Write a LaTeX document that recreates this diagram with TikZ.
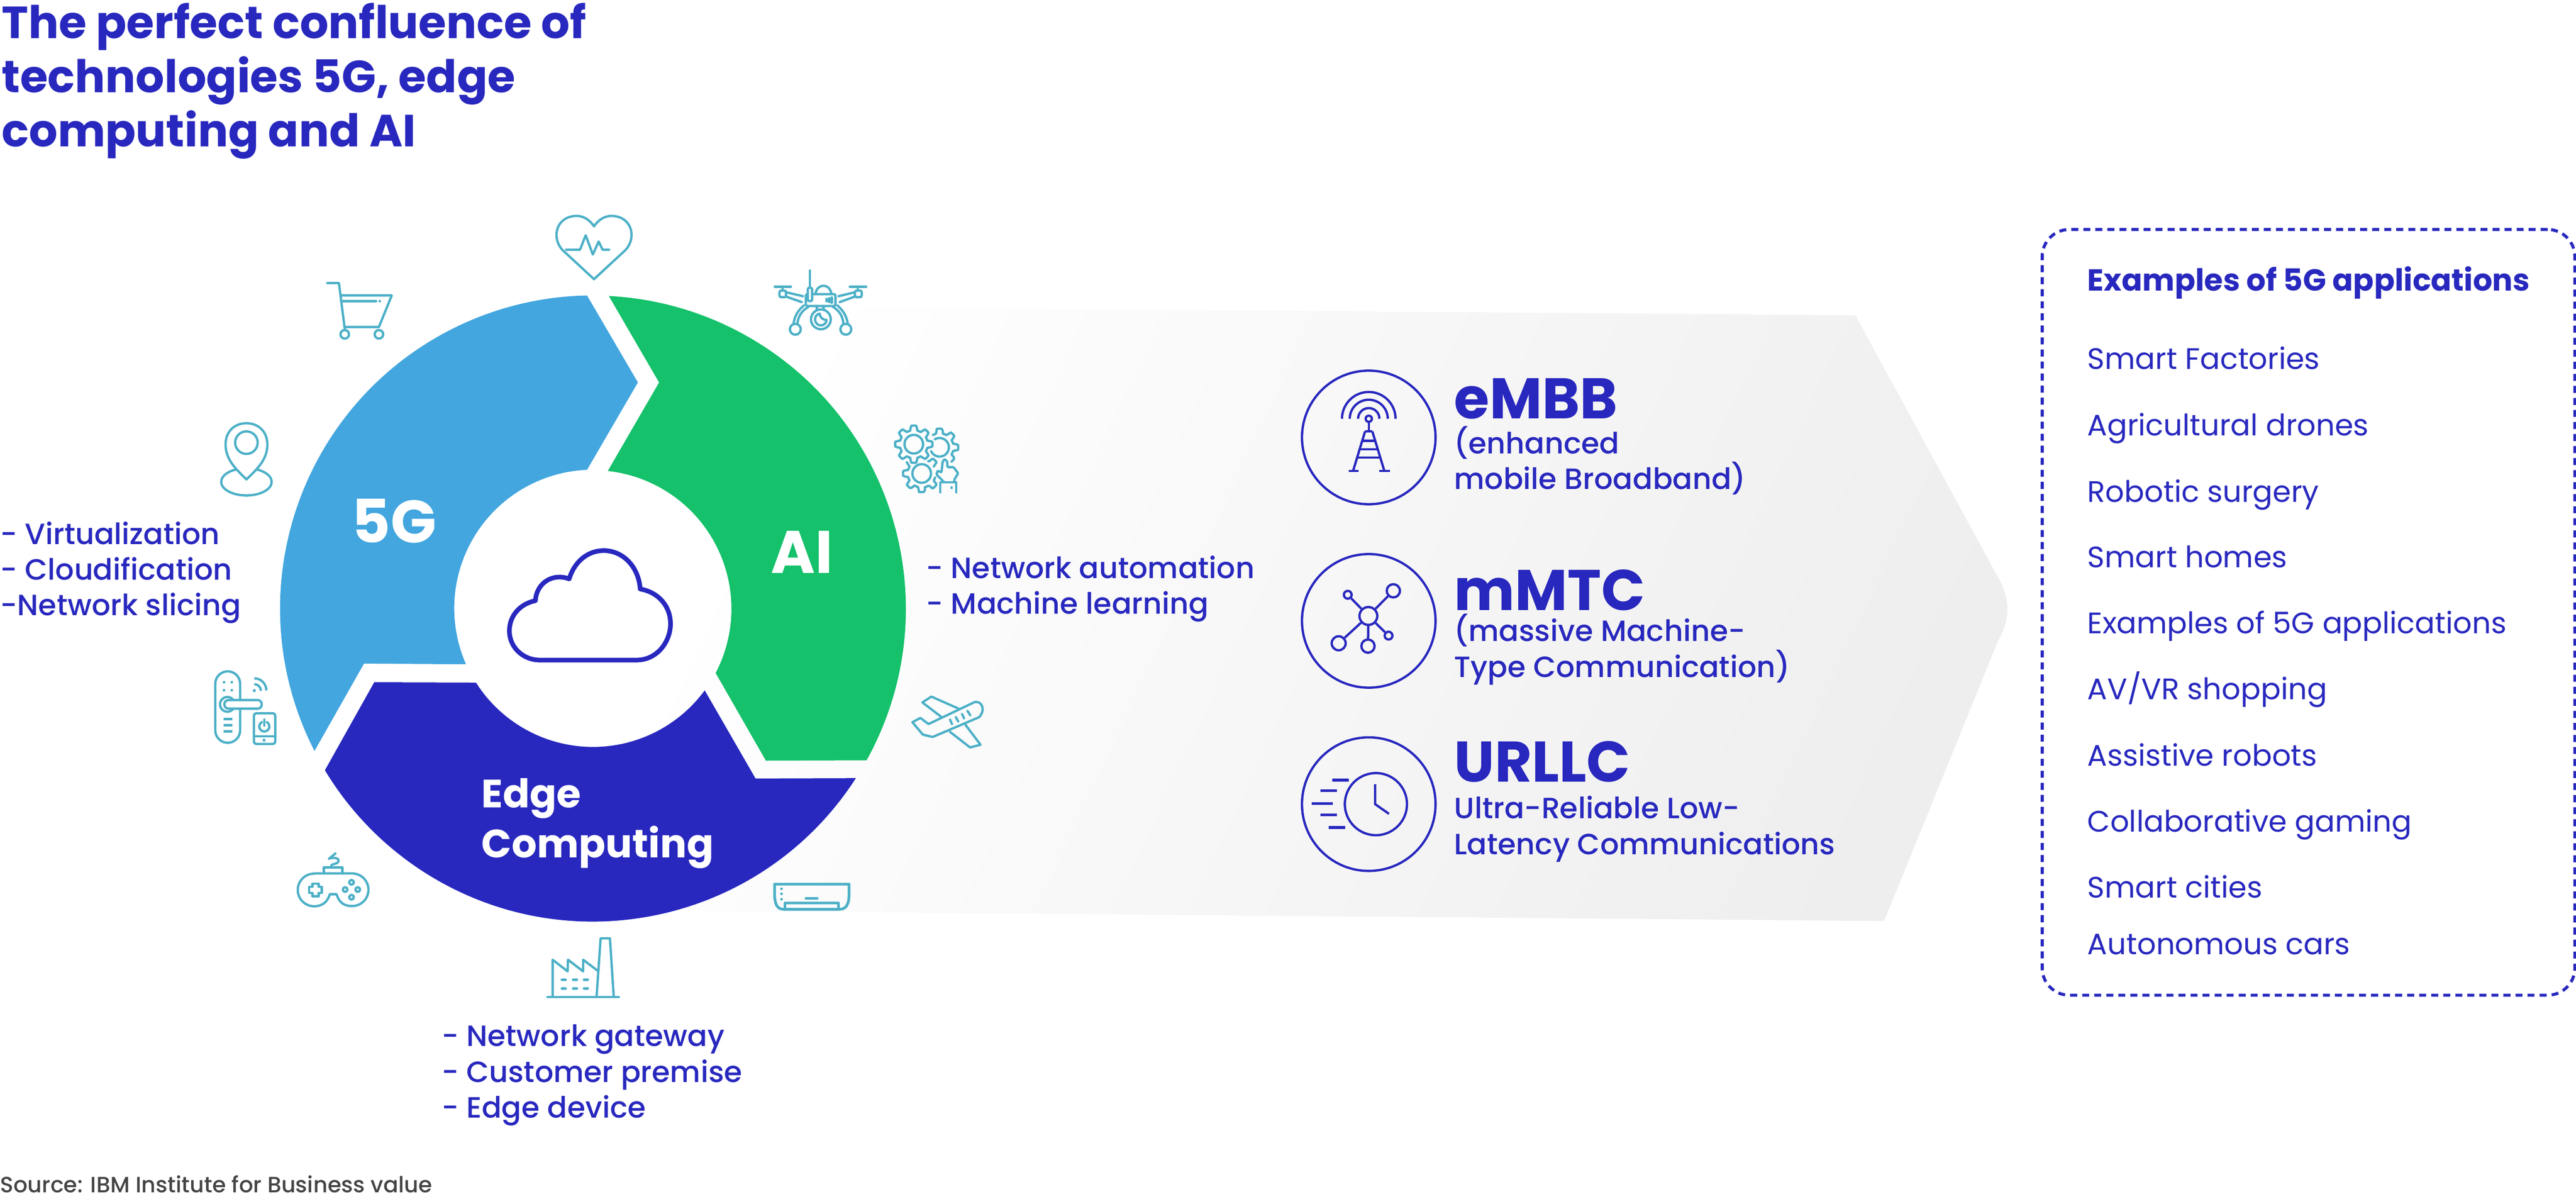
\documentclass[tikz,border=0pt]{standalone}
\usepackage{fontspec}
\usepackage{tikz}
\usetikzlibrary{calc}
\setmainfont{Poppins}
\newfontfamily\medfont{Poppins Medium}
\definecolor{navy}{HTML}{2828BF}
\definecolor{skyseg}{HTML}{43A6DF}
\definecolor{greenseg}{HTML}{15C16B}
\definecolor{iconteal}{HTML}{4CB0C7}
\definecolor{srcgrey}{HTML}{444444}
\tikzset{
  lbl/.style={anchor=base west, inner sep=0pt, text=navy},
  bodytxt/.style={lbl, font=\medfont\fontsize{21.5}{26}\selectfont},
  listtxt/.style={lbl, font=\fontsize{21.7}{26}\selectfont},
  headtxt/.style={lbl, font=\bfseries\fontsize{42}{50}\selectfont},
  segtxt/.style={lbl, text=white, font=\bfseries\fontsize{44}{52}\selectfont},
  edgetxt/.style={lbl, text=white, font=\bfseries\fontsize{29}{35}\selectfont},
  titletxt/.style={lbl, font=\bfseries\fontsize{33}{40}\selectfont},
  icon/.style={draw=iconteal, line width=1.7pt, line cap=round, line join=round},
  bicon/.style={draw=navy, line width=1.7pt, line join=round},
  ringbox/.style={draw=navy, line width=1.7pt, circle, minimum size=3.44cm, inner sep=0pt},
  netdot/.style={draw=navy, line width=1.7pt, circle, inner sep=0pt},
}
\begin{document}
\begin{tikzpicture}
\useasboundingbox (0,0) rectangle (66.35,-30.87);

% big arrow
\shade [shading=axis, top color=white, bottom color=black!6.5, shading angle=65]
  (17.39,-7.88) -- (47.79,-8.12) -- (51.37,-14.70)
  .. controls (51.80,-15.40) and (51.80,-15.90) .. (51.47,-16.49)
  -- (48.53,-23.72) -- (15.77,-23.44) -- cycle;

% ring
\fill [skyseg] (15.12,-7.61) -- (16.43,-9.85) -- (15.12,-12.10) arc (92.4:203.8:3.57)
  -- (9.376,-17.09) -- (8.10,-19.34) arc (207.1:91.07:8.06) -- cycle;
\fill [greenseg] (15.68,-7.62) -- (16.976,-9.85) -- (15.655,-12.13) arc (83.8:-27.6:3.57)
  -- (19.727,-19.59) -- (22.32,-19.58) arc (-29:87.1:8.06) -- cycle;
\fill [navy] (9.64,-17.57) -- (12.26,-17.58) arc (212.4:323.7:3.57)
  -- (19.46,-20.05) -- (22.045,-20.04) arc (327.2:211.1:8.06) -- cycle;
\node [segtxt] (fiveg) at (9.05,-13.98) {5G};
\node [segtxt] (ailbl) at (19.85,-14.76) {AI};
\node [edgetxt] (edge) at (12.40,-20.80) {Edge};
\node [edgetxt] (comp) at (12.40,-22.09) {Computing};

% cloud
\draw [navy, line width=3.4pt, line join=round] (13.91,-17.00) -- (16.39,-17.00)
  .. controls (16.95,-17.00) and (17.27,-16.50) .. (17.27,-16.07)
  .. controls (17.27,-15.60) and (16.95,-15.25) .. (16.49,-15.17)
  .. controls (16.45,-14.60) and (16.05,-14.18) .. (15.55,-14.18)
  .. controls (15.15,-14.18) and (14.80,-14.45) .. (14.66,-14.91)
  .. controls (14.25,-14.75) and (13.82,-15.00) .. (13.79,-15.47)
  .. controls (13.40,-15.55) and (13.12,-15.85) .. (13.12,-16.25)
  .. controls (13.12,-16.65) and (13.45,-17.00) .. (13.91,-17.00) -- cycle;

% heart
\draw [icon] (15.30,-7.19) -- (14.50,-6.45) .. controls (14.20,-6.15) and (14.30,-5.58) .. (14.84,-5.56)
  .. controls (15.05,-5.56) and (15.20,-5.68) .. (15.30,-5.83)
  .. controls (15.40,-5.68) and (15.55,-5.56) .. (15.76,-5.56)
  .. controls (16.30,-5.58) and (16.40,-6.15) .. (16.10,-6.45) -- cycle;
\draw [icon] (14.58,-6.43) -- (14.94,-6.43) -- (15.085,-6.06) -- (15.27,-6.555) -- (15.42,-6.22) -- (15.52,-6.43) -- (15.69,-6.43);

% cart
\draw [icon] (8.43,-7.29) -- (8.73,-7.29) -- (8.88,-8.47);
\draw [icon] (8.80,-7.61) -- (10.09,-7.61) -- (9.76,-8.42) -- (8.88,-8.42);
\draw [icon] (8.83,-7.755) -- (9.69,-7.755);
\draw [icon] (9.78,-7.755) -- (9.785,-7.755);
\draw [icon] (8.88,-8.61) circle (.11);
\draw [icon] (9.76,-8.61) circle (.11);

% pin
\draw [icon] (6.347,-12.347) .. controls (6.10,-12.10) and (5.81,-11.85) .. (5.81,-11.45)
  .. controls (5.81,-11.10) and (6.05,-10.90) .. (6.347,-10.90)
  .. controls (6.64,-10.90) and (6.887,-11.10) .. (6.887,-11.45)
  .. controls (6.887,-11.85) and (6.60,-12.10) .. (6.347,-12.347) -- cycle;
\draw [icon] (6.347,-11.40) circle (.29);
\draw [icon] (6.083,-12.09) arc [start angle=114, end angle=426, x radius=.65, y radius=.35];

% door lock
\draw [icon] (5.545,-17.61) -- (5.545,-18.81) arc (180:360:.32) -- (6.185,-17.61) arc (0:180:.32);
\draw [icon, fill=white] (5.857,-18.14) circle (.19);
\draw [icon, fill=white, rounded corners=.1cm] (5.78,-18.03) rectangle (6.74,-18.25);
\foreach \dx in {5.77,5.97} {
  \foreach \dy in {-17.57,-17.776} {
    \fill [iconteal] (\dx,\dy) circle (.035);
  }
}
\foreach \dy in {-18.515,-18.68,-18.84} {
  \draw [icon, line cap=butt] (5.76,\dy) -- (5.98,\dy);
}
\fill [iconteal] (6.55,-17.786) circle (.04);
\draw [icon, line cap=butt] (6.55,-17.62) arc (90:0:.17);
\draw [icon, line cap=butt] (6.55,-17.47) arc (90:0:.31);
\draw [icon, rounded corners=.06cm] (6.54,-18.37) rectangle (7.09,-19.16);
\draw [icon] (6.54,-18.96) -- (7.09,-18.96);
\fill [iconteal] (6.77,-19.03) rectangle (6.84,-19.09);
\draw [icon] (6.873,-18.597) arc (60:-240:.13);
\draw [icon] (6.808,-18.53) -- (6.808,-18.69);

% controller
\draw [icon] (8.09,-22.495) -- (9.07,-22.495) arc (90:-90:.42)
  .. controls (8.85,-23.34) and (8.72,-23.22) .. (8.67,-23.03) -- (8.495,-23.03)
  .. controls (8.44,-23.22) and (8.31,-23.34) .. (8.09,-23.34) arc (270:90:.42) -- cycle;
\draw [icon] (8.34,-22.495) -- (8.34,-22.34) -- (8.82,-22.34) -- (8.82,-22.495);
\draw [icon] (8.527,-22.32) .. controls (8.52,-22.22) and (8.72,-22.28) .. (8.72,-22.16)
  .. controls (8.72,-22.06) and (8.45,-22.10) .. (8.47,-22.12) -- (8.64,-21.98);
\draw [icon] (8.045,-22.84) -- (8.045,-22.76) -- (8.205,-22.76) -- (8.205,-22.84)
  -- (8.285,-22.84) -- (8.285,-23.00) -- (8.205,-23.00) -- (8.205,-23.08) -- (8.045,-23.08)
  -- (8.045,-23.00) -- (7.965,-23.00) -- (7.965,-22.84) -- cycle;
\foreach \bx/\by in {9.054/-22.724, 8.89/-22.91, 9.214/-22.91, 9.054/-23.107} {
  \draw [icon] (\bx,\by) circle (.06);
}

% factory
\draw [icon] (14.10,-25.68) -- (15.94,-25.68);
\draw [icon] (14.235,-25.68) -- (14.235,-24.717) -- (14.62,-25.017) -- (14.63,-24.717)
  -- (15.02,-25.017) -- (15.02,-24.717) -- (15.394,-25.00);
\draw [icon] (15.366,-25.667) -- (15.47,-24.167) -- (15.71,-24.167) -- (15.808,-25.667);
\foreach \wx in {14.52,14.81,15.09} {
  \foreach \wy in {-25.23,-25.46} {
    \draw [icon] (\wx-.05,\wy) -- (\wx+.05,\wy);
  }
}

% air conditioner
\draw [icon, line width=2pt] (19.95,-22.77) -- (21.87,-22.77) -- (21.87,-23.00)
  .. controls (21.87,-23.30) and (21.80,-23.42) .. (21.60,-23.42)
  -- (20.20,-23.42) .. controls (20.02,-23.42) and (19.95,-23.30) .. (19.95,-23.00) -- cycle;
\foreach \ay in {-22.89,-23.02,-23.16} {
  \fill [iconteal] (20.13,\ay) circle (.035);
}
\draw [icon, line width=2pt] (20.76,-23.14) -- (21.05,-23.14);
\draw [icon, line width=2pt] (20.22,-23.42) -- (20.22,-23.26) -- (21.60,-23.26) -- (21.60,-23.42);

% drone
\draw [icon, rounded corners=.04cm] (20.755,-7.576) rectangle (21.52,-7.88);
\draw [icon] (20.86,-6.964) -- (20.86,-7.41);
\draw [icon, rounded corners=.04cm, fill=white] (20.806,-7.41) rectangle (20.918,-7.755);
\draw [icon] (21.01,-7.536) .. controls (21.07,-7.30) and (21.35,-7.30) .. (21.408,-7.536);
\draw [icon] (20.679,-7.628) -- (20.245,-7.526);
\draw [icon] (20.65,-7.78) -- (20.245,-7.638);
\draw [icon, rounded corners=.04cm] (20.077,-7.485) rectangle (20.245,-7.653);
\draw [icon] (19.954,-7.388) -- (20.372,-7.388) (20.158,-7.388) -- (20.158,-7.485);
\draw [icon] (21.60,-7.628) -- (22.02,-7.526);
\draw [icon] (21.63,-7.78) -- (22.02,-7.638);
\draw [icon, rounded corners=.04cm] (22.02,-7.485) rectangle (22.194,-7.653);
\draw [icon] (21.888,-7.388) -- (22.31,-7.388) (22.097,-7.388) -- (22.097,-7.485);
\draw [icon] (20.704,-7.867) .. controls (20.55,-8.00) and (20.46,-8.15) .. (20.439,-8.34);
\draw [icon] (20.816,-7.908) .. controls (20.65,-8.00) and (20.56,-8.15) .. (20.536,-8.34);
\draw [icon] (20.485,-8.48) circle (.14);
\draw [icon] (21.57,-7.867) .. controls (21.72,-8.00) and (21.81,-8.15) .. (21.837,-8.34);
\draw [icon] (21.46,-7.908) .. controls (21.62,-8.00) and (21.71,-8.15) .. (21.724,-8.34);
\draw [icon] (21.786,-8.48) circle (.14);
\draw [icon] (21.04,-7.88) -- (21.04,-7.98) (21.21,-7.88) -- (21.21,-7.98);
\draw [icon] (21.143,-8.224) circle (.255);
\draw [icon] (21.112,-8.077) .. controls (20.95,-8.10) and (20.95,-8.37) .. (21.14,-8.38)
  .. controls (21.24,-8.38) and (21.29,-8.30) .. (21.29,-8.24)
  .. controls (21.19,-8.24) and (21.112,-8.17) .. cycle;
\foreach \sx/\sh in {21.29/.03, 21.357/.05, 21.423/.07} {
  \draw [icon] (\sx,-7.73-\sh) -- (\sx,-7.73+\sh);
}

% gears
\begin{scope}[shift={(23.536,-11.44)}]
\draw [icon] plot [domain=0:360, samples=97] ({\x}:{.42+.06*max(-1,min(1,3*cos(8*\x)))}) -- cycle;
\draw [icon] (0,0) circle (.24);
\end{scope}
\begin{scope}[shift={(24.20,-11.52)}]
\draw [icon] plot [domain=-50:118, samples=45] ({\x}:{.42+.06*max(-1,min(1,3*cos(8*\x)))});
\draw [icon] (120:.24) arc (120:-155:.24);
\end{scope}
\begin{scope}[shift={(23.74,-12.194)}]
\draw [icon] plot [domain=143:343, samples=55] ({\x}:{.42+.06*max(-1,min(1,3*cos(8*\x)))});
\draw [icon] plot [domain=30:62, samples=10] ({\x}:{.42+.06*max(-1,min(1,3*cos(8*\x)))});
\draw [icon] (0,0) circle (.24);
\end{scope}
\draw [icon, rounded corners=.03cm] (24.30,-12.40) -- (24.12,-12.22) -- (24.15,-12.12) -- (24.25,-12.17)
  -- (24.28,-11.89) -- (24.33,-11.82) -- (24.40,-11.89) -- (24.40,-12.03) -- (24.56,-12.03)
  -- (24.68,-12.19) -- (24.58,-12.35) -- (24.58,-12.42);
\draw [icon] (24.22,-12.68) -- (24.22,-12.42) -- (24.63,-12.42) -- (24.63,-12.68);
\fill [iconteal] (24.48,-12.53) rectangle (24.54,-12.59);

% plane
\draw [icon] (25.064,-18.10) .. controls (25.25,-18.00) and (25.42,-18.25) .. (25.22,-18.47)
  -- (24.024,-18.98) -- (23.77,-18.92) -- (23.50,-18.60) -- (23.706,-18.49) -- (23.916,-18.647) -- cycle;
\draw [icon] (24.235,-18.455) -- (23.757,-18.09) -- (23.99,-17.94) -- (24.68,-18.246);
\draw [icon] (24.47,-18.85) -- (24.987,-19.25) -- (25.255,-19.18) -- (24.87,-18.67);
\draw [icon] (24.47,-18.536) -- (24.52,-18.647);
\draw [icon] (24.62,-18.47) -- (24.68,-18.58);
\draw [icon] (24.78,-18.39) -- (24.83,-18.50);
\draw [icon] (24.92,-18.31) -- (24.99,-18.42);

% tower
\foreach \tr in {.275,.49,.69} {
  \draw [bicon] (35.255-\tr,-10.785) arc (180:0:\tr);
}
\draw [bicon] (35.255,-10.785) circle (.08);
\draw [bicon] (35.255,-10.87) -- (35.255,-11.11);
\draw [bicon] (35.16,-11.11) -- (34.857,-12.108) (35.347,-11.11) -- (35.65,-12.108) (35.16,-11.11) -- (35.347,-11.11);
\draw [bicon] (35.09,-11.35) -- (35.42,-11.35) (35.02,-11.57) -- (35.49,-11.57) (34.96,-11.784) -- (35.55,-11.784);
\draw [bicon] (34.735,-12.126) -- (34.99,-12.126) (35.53,-12.126) -- (35.796,-12.126);
\node [ringbox] (ringa) at (35.255,-11.266) {};

% network
\node [ringbox] (ringb) at (35.255,-15.99) {};
\node [netdot, minimum size=.46cm] (hub) at (35.245,-15.864) {};
\node [netdot, minimum size=.2cm] (neta) at (34.714,-15.318) {};
\node [netdot, minimum size=.34cm] (netb) at (35.888,-15.216) {};
\node [netdot, minimum size=.36cm] (netc) at (34.48,-16.567) {};
\node [netdot, minimum size=.34cm] (netd) at (35.235,-16.64) {};
\node [netdot, minimum size=.2cm] (nete) at (35.765,-16.37) {};
\foreach \n in {neta,netb,netc,netd,nete} {
  \draw [bicon] (hub) -- (\n);
}

% clock
\node [ringbox] (ringc) at (35.255,-20.71) {};
\draw [bicon] (35.439,-20.71) circle (.80);
\draw [bicon] (35.418,-20.20) -- (35.418,-20.71) -- (35.776,-20.96);
\foreach \ax/\bx/\ly in {34.316/34.735/20.09, 34.01/34.43/20.36, 33.786/34.327/20.693, 34.01/34.43/20.99, 34.224/34.653/21.31} {
  \draw [bicon, line width=2pt] (\ax,-\ly) -- (\bx,-\ly);
}

% title
\node [titletxt] (title1) at (.04,-.987) {The perfect confluence of};
\node [titletxt] (title2) at (.04,-2.38) {technologies 5G, edge};
\node [titletxt] (title3) at (.04,-3.77) {computing and AI};

% lists next to the ring
\node [bodytxt] (virt) at (0,-14.017) {- Virtualization};
\node [bodytxt] (clou) at (0,-14.937) {- Cloudification};
\node [bodytxt] (slic) at (0,-15.85) {-Network slicing};
\node [bodytxt] (auto) at (23.85,-14.89) {- Network automation};
\node [bodytxt] (lear) at (23.85,-15.81) {- Machine learning};
\node [bodytxt] (gate) at (11.37,-26.95) {- Network gateway};
\node [bodytxt] (prem) at (11.37,-27.87) {- Customer premise};
\node [bodytxt] (devc) at (11.37,-28.79) {- Edge device};
\node [lbl, text=srcgrey, font=\medfont\fontsize{16.2}{20}\selectfont] (src) at (0,-30.71) {Source: IBM Institute for Business value};

% 5G services
\node [headtxt] (embb) at (37.45,-10.785) {eMBB};
\node [bodytxt] (embba) at (37.45,-11.69) {(enhanced};
\node [bodytxt] (embbb) at (37.45,-12.60) {mobile Broadband)};
\node [headtxt] (mmtc) at (37.45,-15.715) {mMTC};
\node [bodytxt] (mmtca) at (37.45,-16.51) {(massive Machine-};
\node [bodytxt] (mmtcb) at (37.45,-17.445) {Type Communication)};
\node [headtxt] (urll) at (37.45,-20.137) {URLLC};
\node [bodytxt] (urlla) at (37.45,-21.08) {Ultra-Reliable Low-};
\node [bodytxt] (urllb) at (37.45,-22.006) {Latency Communications};

% applications box
\node [draw=navy, line width=2.2pt, dash pattern=on .18cm off .13cm, rounded corners=.7cm,
  minimum width=13.72cm, minimum height=19.72cm, inner sep=0pt] (appbox) at (59.46,-15.77) {};
\node [lbl, font=\bfseries\fontsize{22.3}{27}\selectfont] (apphead) at (53.76,-7.487) {Examples of 5G applications};
\foreach \i/\ly/\txt in {1/9.513/Smart Factories, 2/11.225/Agricultural drones, 3/12.938/Robotic surgery,
  4/14.62/Smart homes, 5/16.32/Examples of 5G applications, 6/18.02/{AV/VR shopping},
  7/19.72/Assistive robots, 8/21.42/Collaborative gaming, 9/23.12/Smart cities, 10/24.58/Autonomous cars} {
  \node [listtxt] (app\i) at (53.76,-\ly) {\txt};
}
\end{tikzpicture}
\end{document}
